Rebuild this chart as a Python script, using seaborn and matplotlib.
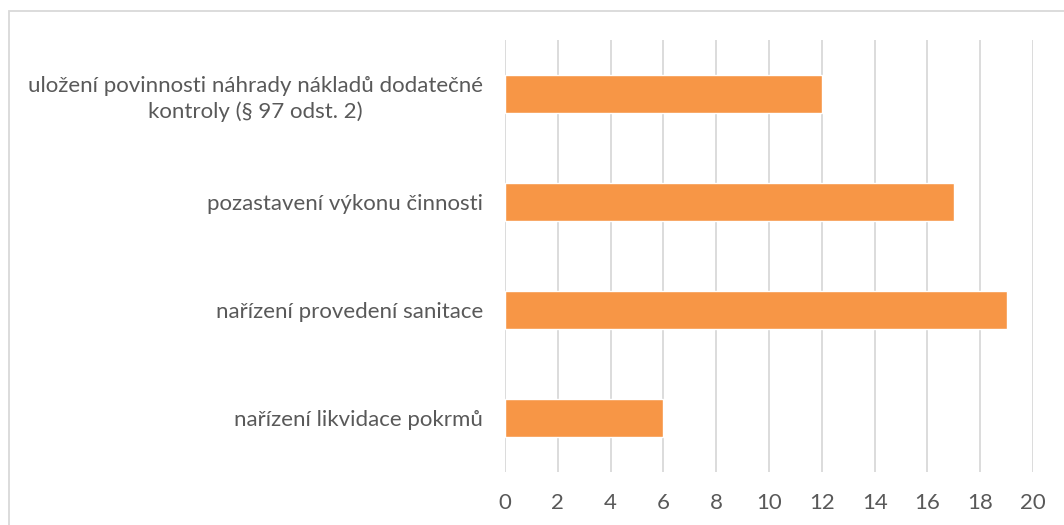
import matplotlib
matplotlib.use("Agg")
import matplotlib.pyplot as plt
import seaborn as sns
import pandas as pd
from matplotlib.patches import Rectangle

categories = [
    "uložení povinnosti náhrady nákladů dodatečné\nkontroly (§ 97 odst. 2)",
    "pozastavení výkonu činnosti",
    "nařízení provedení sanitace",
    "nařízení likvidace pokrmů",
]
values = [12, 17, 19, 6]
xticks = [0, 2, 4, 6, 8, 10, 12, 14, 16, 18, 20]

sns.set_theme(style="white")
plt.rcParams['font.family'] = ['Lato', 'DejaVu Sans']

df = pd.DataFrame({"cat": categories, "val": values})

fig = plt.figure(figsize=(10.64, 5.25), dpi=100)
ax = fig.add_axes([505/1064, 1 - 472/525, (1033-505)/1064, (472-40)/525])

sns.barplot(data=df, x="val", y="cat", color="#F79646", saturation=1,
            width=0.345, ax=ax)

ax.set_xlim(0, 20)
ax.set_ylim(3.5, -0.5)
ax.set_xticks(xticks)
ax.set_xticklabels([str(t) for t in xticks])
ax.set_xlabel("")
ax.set_ylabel("")
for s in ax.spines.values():
    s.set_visible(False)
ax.grid(axis="x", color="#D9D9D9", linewidth=1.3)
ax.grid(axis="y", visible=False)
ax.set_axisbelow(True)
ax.tick_params(axis="x", length=0, pad=15, labelsize=16, labelcolor="#595959")
ax.tick_params(axis="y", length=0, pad=16, labelsize=16, labelcolor="#595959")
for lbl in ax.get_yticklabels():
    lbl.set_multialignment("center")
    lbl.set_linespacing(1.35)

fig.patches.append(Rectangle((9/1064, -0.1), 1.2, 1 - 11/525 + 0.1,
                             transform=fig.transFigure, fill=False,
                             edgecolor="#D9D9D9", linewidth=1.3))

fig.savefig("out.png", dpi=100, facecolor="white")
